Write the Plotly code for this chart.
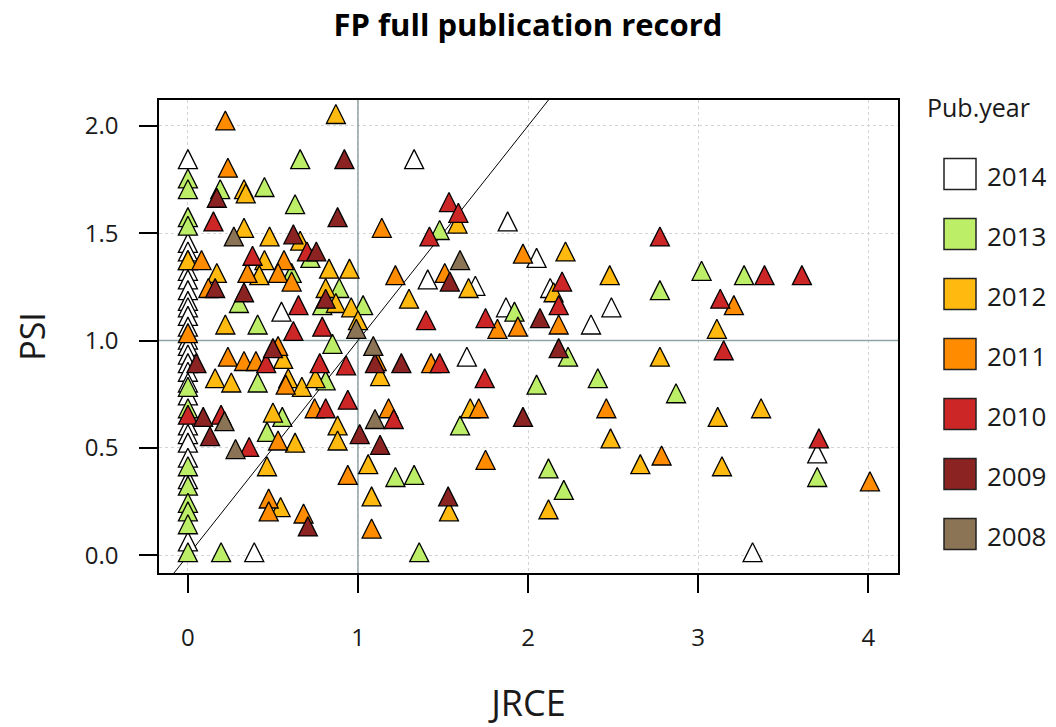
import plotly.graph_objects as go

# ---------------- data ----------------
years = ["2014", "2013", "2012", "2011", "2010", "2009", "2008"]
colors = ["#FFFFFF", "#BCEE68", "#FFB90F", "#FF8C00", "#CD2626", "#8B2323", "#8B7355"]

x_2014 = [0, 1.33, 0, 0, 0, 0, 0, 0, 0, 0, 0, 0, 0, 0, 0, 0, 0, 0, 0, 0, 0, 0, 0, 0,
          0.39, 0.55, 1.88, 2.05, 1.41, 1.69, 2.13, 2.49, 1.87, 2.37, 1.64, 3.70, 3.32, 0]
y_2014 = [1.83, 1.83, 1.44, 1.40, 1.31, 1.27, 1.22, 1.17, 1.14, 1.10, 1.05, 0.99, 0.96, 0.92,
          0.88, 0.84, 0.79, 0.73, 0.59, 0.55, 0.51, 0.44, 0.34, 0.05,
          0.0, 1.12, 1.54, 1.37, 1.27, 1.24, 1.23, 1.14, 1.14, 1.06, 0.91, 0.46, 0.0, 1.36]

x_2013 = [0.66, 0, 0, 0.19, 0.45, 0.63, 0, 0, 1.48, 0.72, 0.61, 0.89, 0.30, 0.79, 1.03, 0.41,
          0.85, 0.41, 0.81, 0, 0, 0.555, 0.465, 1.92, 2.235, 2.05, 2.41, 1.60, 1.22, 1.33,
          2.12, 2.21, 1.36, 0, 0, 0, 0, 0, 0, 0.195, 3.02, 3.27, 2.775, 2.87, 3.70]
y_2013 = [1.83, 1.74, 1.69, 1.69, 1.70, 1.62, 1.56, 1.52, 1.50, 1.37, 1.30, 1.23, 1.16, 1.15,
          1.15, 1.06, 0.97, 0.79, 0.80, 0.77, 0.67, 0.63, 0.56, 1.12, 0.91, 0.78, 0.81, 0.59,
          0.35, 0.36, 0.39, 0.29, 0.0, 0.40, 0.31, 0.23, 0.19, 0.13, 0.0, 0.0, 1.31, 1.29,
          1.22, 0.74, 0.35]

x_2012 = [0.87, 0.33, 0.34, 0.33, 0.48, 0.66, 1.585, 0, 0.45, 0.17, 0.42, 0.83, 0.95, 0.81,
          0.87, 0.96, 0.22, 1.0, 2.22, 1.65, 1.30, 2.15, 2.48, 0.56, 1.13, 0.16, 0.255, 0.59,
          0.67, 0.75, 0.50, 0.88, 0.63, 0.88, 0.465, 1.06, 1.08, 0.545, 1.66, 2.485, 2.12,
          1.535, 3.11, 2.775, 3.115, 3.37, 2.66, 3.14]
y_2012 = [2.04, 1.69, 1.67, 1.51, 1.47, 1.45, 1.53, 1.36, 1.36, 1.30, 1.29, 1.32, 1.32, 1.23,
          1.16, 1.14, 1.06, 1.08, 1.40, 1.23, 1.18, 1.21, 1.29, 0.90, 0.82, 0.81, 0.79, 0.81,
          0.77, 0.81, 0.65, 0.59, 0.51, 0.52, 0.40, 0.41, 0.26, 0.21, 0.67, 0.53, 0.20,
          0.19, 1.04, 0.91, 0.63, 0.67, 0.41, 0.40]

x_2011 = [0.22, 0.235, 1.14, 0.08, 0.565, 0.35, 0.53, 0.61, 1.22, 0.12, 0, 0.53, 0.235, 0.33,
          0.40, 1.11, 0.575, 0.745, 1.18, 0.53, 0.94, 0.475, 0.475, 0.68, 1.08, 1.97, 1.51,
          1.82, 1.94, 2.18, 1.43, 1.71, 2.46, 1.75, 3.21, 2.785, 4.01]
y_2011 = [2.01, 1.79, 1.51, 1.36, 1.36, 1.30, 1.30, 1.26, 1.29, 1.23, 1.02, 0.96, 0.91, 0.89,
          0.89, 0.89, 0.78, 0.67, 0.67, 0.52, 0.36, 0.25, 0.19, 0.18, 0.11, 1.39, 1.30,
          1.04, 1.05, 1.06, 0.88, 0.67, 0.67, 0.43, 1.15, 0.45, 0.33]

x_2010 = [0.15, 0.70, 0.38, 0.65, 0.62, 0.79, 0.46, 0.775, 0.93, 0.94, 0.81, 1.21, 0, 0.195,
          0.36, 1.535, 1.59, 1.42, 2.20, 2.18, 1.40, 1.75, 1.48, 1.745, 2.775, 3.39, 3.61,
          3.13, 3.15, 3.71]
y_2010 = [1.54, 1.40, 1.38, 1.15, 1.03, 1.05, 0.88, 0.88, 0.87, 0.71, 0.67, 0.62, 0.64, 0.64,
          0.49, 1.63, 1.58, 1.47, 1.26, 1.15, 1.08, 1.09, 0.88, 0.81, 1.47, 1.29, 1.29,
          1.18, 0.94, 0.53]

x_2009 = [0.92, 0.17, 0.88, 0.62, 0.755, 0.16, 0.33, 0.81, 0.50, 0.05, 1.10, 1.255, 0.09,
          1.01, 0.13, 1.13, 0.705, 1.54, 2.07, 2.18, 1.97, 1.53]
y_2009 = [1.83, 1.65, 1.56, 1.48, 1.40, 1.23, 1.21, 1.18, 0.95, 0.88, 0.88, 0.88, 0.63,
          0.55, 0.54, 0.50, 0.12, 1.26, 1.09, 0.95, 0.63, 0.26]

x_2008 = [0.27, 0.99, 1.09, 0.215, 1.10, 0.28, 1.60]
y_2008 = [1.47, 1.04, 0.96, 0.61, 0.62, 0.48, 1.36]

series_x = [x_2014, x_2013, x_2012, x_2011, x_2010, x_2009, x_2008]
series_y = [y_2014, y_2013, y_2012, y_2011, y_2010, y_2009, y_2008]

x_ticks = [0, 1, 2, 3, 4]
y_ticks = [0.0, 0.5, 1.0, 1.5, 2.0]
y_tick_labels = ["0.0", "0.5", "1.0", "1.5", "2.0"]
ref_x = 1.0
ref_y = 1.0

# ---------------- layout constants ----------------
W, H = 1056, 727
L, R, T, B = 159, 898, 100, 573
x_range = [-0.17, 4.175]
y_range = [-0.082, 2.12]
FONT = "Open Sans"
TXT = "#1a1a1a"

def pxx(px):
    return (px - L) / (R - L)

def pxy(py):
    return (B - py) / (B - T)

fig = go.Figure()

for yr, col, xs, ys in zip(years, colors, series_x, series_y):
    fig.add_trace(go.Scatter(
        x=xs, y=ys, mode="markers", name=yr, showlegend=False,
        marker=dict(symbol="arrow-down", angle=180, standoff=12.7, size=19,
                    color=col, line=dict(color="black", width=1.3)),
        cliponaxis=False,
    ))

# reference lines
fig.add_shape(type="line", xref="x", yref="y", x0=ref_x, x1=ref_x,
              y0=y_range[0], y1=y_range[1], layer="between",
              line=dict(color="#8FA3A3", width=1.5))
fig.add_shape(type="line", xref="x", yref="y", x0=x_range[0], x1=x_range[1],
              y0=ref_y, y1=ref_y, layer="between",
              line=dict(color="#8FA3A3", width=1.5))
d0 = max(x_range[0], y_range[0])
d1 = min(x_range[1], y_range[1])
fig.add_shape(type="line", xref="x", yref="y", x0=d0, y0=d0, x1=d1, y1=d1,
              layer="between", line=dict(color="black", width=1))

# manual legend
fig.add_annotation(xref="paper", yref="paper", x=pxx(925), y=pxy(107),
                   xanchor="left", yanchor="middle", showarrow=False,
                   text="Pub.year", font=dict(family=FONT, size=25, color=TXT))
for i, (yr, col) in enumerate(zip(years, colors)):
    cy = 174 + 60 * i
    fig.add_shape(type="rect", xref="paper", yref="paper",
                  x0=pxx(944), x1=pxx(976), y0=pxy(cy + 15.5), y1=pxy(cy - 15.5),
                  fillcolor=col, line=dict(color="#222", width=1.5))
    fig.add_annotation(xref="paper", yref="paper", x=pxx(985), y=pxy(cy + 2),
                       xanchor="left", yanchor="middle", showarrow=False,
                       text=yr, font=dict(family=FONT, size=26, color=TXT))

axis_common = dict(
    showline=True, linecolor="black", linewidth=1.5, mirror=True,
    ticks="outside", ticklen=18, tickwidth=1.5, tickcolor="black",
    showgrid=True, gridcolor="#D3D3D3", gridwidth=1, griddash="3px,3px",
    zeroline=False, tickfont=dict(family=FONT, size=24, color=TXT),
    automargin=False,
)

fig.update_layout(
    width=W, height=H,
    margin=dict(l=L, r=W - R, t=T, b=H - B),
    paper_bgcolor="white", plot_bgcolor="white",
    title=dict(text="<b>FP full publication record</b>", x=0.5, xref="container",
               y=1 - 25 / H, yref="container", xanchor="center", yanchor="middle",
               font=dict(family=FONT, size=31, color="black")),
    xaxis=dict(range=x_range, tickvals=x_ticks, ticktext=[str(v) for v in x_ticks],
               ticklabelstandoff=24,
               title=dict(text="JRCE", standoff=46,
                          font=dict(family=FONT, size=36, color=TXT)),
               **axis_common),
    yaxis=dict(range=y_range, tickvals=y_ticks, ticktext=y_tick_labels,
               ticklabelstandoff=16,
               title=dict(text="PSI", standoff=29,
                          font=dict(family=FONT, size=34, color=TXT)),
               **axis_common),
    showlegend=False,
)

fig.write_html("out.html", config={"displayModeBar": False},
               post_script="document.body.style.margin='0';")
